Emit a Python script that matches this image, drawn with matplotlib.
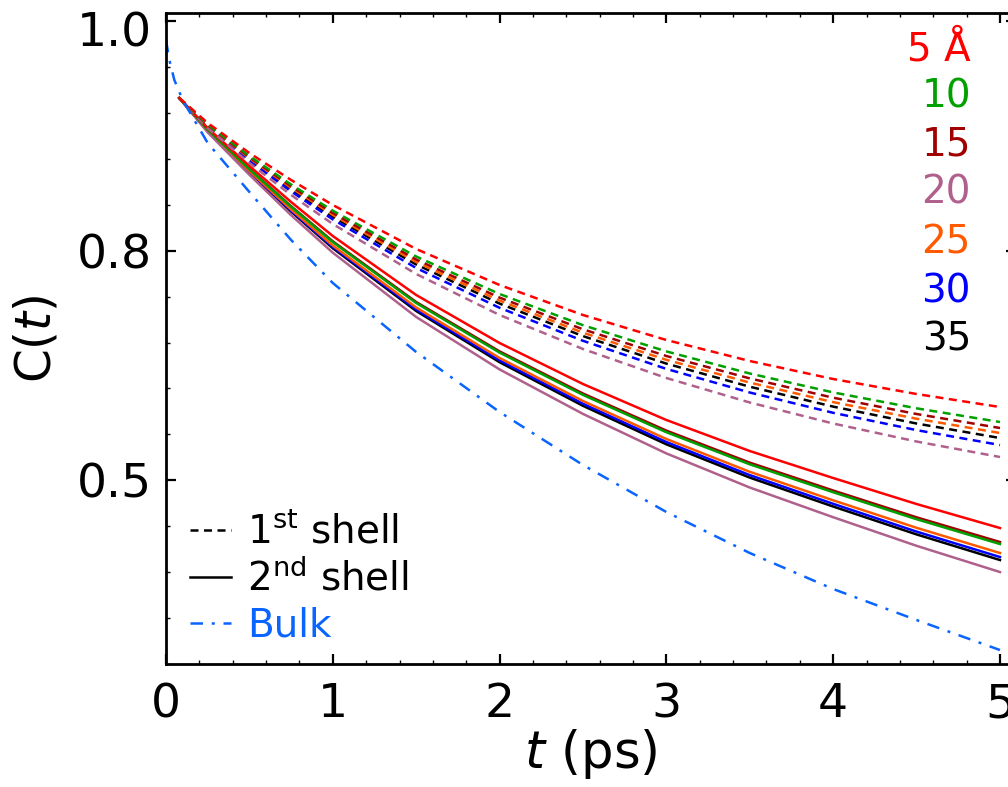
import matplotlib
matplotlib.use("Agg")
import matplotlib.pyplot as plt
from matplotlib.lines import Line2D
from matplotlib.ticker import MultipleLocator
from matplotlib.transforms import ScaledTranslation

# ---------------- data ----------------
t_shell = [0.08, 0.25, 0.5, 0.75, 1.0, 1.5, 2.0, 2.5, 3.0, 3.5, 4.0, 4.5, 5.0]

shell_labels = ["5 Å", "10", "15", "20", "25", "30", "35"]
shell_colors = ["#ff0000", "#00a000", "#a00000", "#b0608c", "#ff5a00", "#0000ff", "#000000"]

# 1st shell (dashed)
first_5  = [0.93307, 0.91129, 0.88514, 0.86161, 0.83983, 0.80148, 0.77011, 0.74397, 0.72218, 0.70388, 0.68819, 0.67512, 0.66379]
first_10 = [0.93307, 0.90998, 0.88253, 0.85769, 0.83486, 0.79495, 0.76227, 0.73508, 0.71225, 0.69299, 0.67652, 0.66266, 0.65072]
first_15 = [0.93307, 0.90946, 0.88149, 0.85613, 0.83286, 0.79234, 0.75913, 0.73151, 0.70824, 0.68872, 0.67190, 0.65770, 0.64550]
first_20 = [0.93307, 0.90693, 0.87643, 0.84855, 0.82327, 0.77970, 0.74397, 0.71434, 0.68907, 0.66772, 0.64942, 0.63373, 0.62022]
first_25 = [0.93307, 0.90902, 0.88062, 0.85482, 0.83120, 0.79016, 0.75652, 0.72854, 0.70493, 0.68506, 0.66807, 0.65360, 0.64114]
first_30 = [0.93307, 0.90798, 0.87852, 0.85168, 0.82728, 0.78493, 0.75025, 0.72149, 0.69700, 0.67643, 0.65874, 0.64366, 0.63068]
first_35 = [0.93307, 0.90859, 0.87974, 0.85351, 0.82955, 0.78798, 0.75391, 0.72558, 0.70162, 0.68148, 0.66414, 0.64941, 0.63678]

# 2nd shell (solid)
second_5  = [0.93307, 0.90693, 0.87382, 0.84245, 0.81282, 0.76140, 0.71957, 0.68384, 0.65247, 0.62545, 0.60192, 0.57926, 0.55835]
second_10 = [0.93307, 0.90554, 0.87103, 0.83826, 0.80750, 0.75443, 0.71120, 0.67434, 0.64183, 0.61386, 0.58954, 0.56602, 0.54441]
second_15 = [0.93307, 0.90571, 0.87138, 0.83878, 0.80820, 0.75530, 0.71225, 0.67556, 0.64323, 0.61534, 0.59103, 0.56767, 0.54615]
second_20 = [0.93307, 0.90310, 0.86615, 0.83094, 0.79826, 0.74223, 0.69656, 0.65778, 0.62336, 0.59364, 0.56776, 0.54284, 0.52000]
second_25 = [0.93307, 0.90475, 0.86946, 0.83591, 0.80454, 0.75051, 0.70650, 0.66902, 0.63591, 0.60733, 0.58249, 0.55852, 0.53656]
second_30 = [0.93307, 0.90441, 0.86876, 0.83486, 0.80323, 0.74876, 0.70441, 0.66667, 0.63329, 0.60445, 0.57944, 0.55521, 0.53308]
second_35 = [0.93307, 0.90414, 0.86824, 0.83408, 0.80218, 0.74746, 0.70284, 0.66484, 0.63129, 0.60227, 0.57708, 0.55277, 0.53046]

# bulk (dash-dot)
t_bulk = [0.0, 0.02, 0.05, 0.1, 0.25, 0.5, 0.75, 1.0, 1.5, 2.0, 2.5, 3.0, 3.5, 4.0, 4.5, 5.0]
bulk   = [0.98362, 0.96619, 0.94876, 0.93133, 0.89386, 0.85116, 0.80933, 0.77186, 0.71173, 0.65944,
          0.61325, 0.57229, 0.53656, 0.50519, 0.47817, 0.45203]
bulk_color = "#0a64ff"

ytick_pos = [0.6, 0.8, 1.0]
ytick_labels = ["0.5", "0.8", "1.0"]
xtick_pos = [0, 1, 2, 3, 4, 5]

first_all = [first_5, first_10, first_15, first_20, first_25, first_30, first_35]
second_all = [second_5, second_10, second_15, second_20, second_25, second_30, second_35]

# ---------------- figure ----------------
plt.rcParams["font.family"] = ["DejaVu Sans"]
plt.rcParams["mathtext.fontset"] = "dejavusans"

fig = plt.figure(figsize=(10.08, 7.87), dpi=100)
ax = fig.add_axes([166 / 1008, 1 - 664.3 / 787, 850 / 1008, (664.3 - 12.7) / 787])

lw = 1.8
dash = (0, (3.2, 2.2))
dashdot = (0, (5, 3.5, 1.2, 3.5))
draw_order = [6, 5, 4, 3, 2, 1, 0]
for i in draw_order:
    ax.plot(t_shell, second_all[i], color=shell_colors[i], lw=lw, ls="-")
for i in draw_order:
    ax.plot(t_shell, first_all[i], color=shell_colors[i], lw=lw, ls=dash)
ax.plot(t_bulk, bulk, color=bulk_color, lw=lw, ls=dashdot)

ax.set_xlim(0, 5.096)
ax.set_ylim(0.4396, 1.0074)

ax.set_xticks(xtick_pos)
ax.xaxis.set_minor_locator(MultipleLocator(0.2))
ax.set_yticks(ytick_pos)
ax.set_yticklabels(ytick_labels)
ax.yaxis.set_minor_locator(MultipleLocator(0.04))

ax.tick_params(which="both", direction="in", top=True, right=True, labelsize=34)
ax.tick_params(which="major", length=7.2, width=1.6)
ax.tick_params(which="minor", length=3.1, width=1.0)
ax.tick_params(axis="y", which="major", pad=10)
ax.tick_params(axis="x", which="major", pad=13)
for sp in ax.spines.values():
    sp.set_linewidth(2.0)

# top label "1.0" sits a little lower than its tick
top_lab = ax.get_yticklabels()[-1]
top_lab.set_transform(top_lab.get_transform() + ScaledTranslation(0, -0.08, fig.dpi_scale_trans))

ax.set_xlabel("$t$ (ps)", fontsize=37, labelpad=0)
ax.set_ylabel("C($t$)", fontsize=35, labelpad=12)

# right side distance labels
label_y = [0.943, 0.871, 0.798, 0.724, 0.647, 0.572, 0.498]
for lab, col, yy in zip(shell_labels, shell_colors, label_y):
    ax.text(0.947, yy, lab, color=col, fontsize=28, ha="right", va="center",
            transform=ax.transAxes)

# legend
handles = [
    Line2D([], [], color="black", lw=lw, ls=dash),
    Line2D([], [], color="black", lw=lw, ls="-"),
    Line2D([], [], color=bulk_color, lw=lw, ls=dashdot),
]
labels = ["1$^{\\rm st}$ shell", "2$^{\\rm nd}$ shell", "Bulk"]
leg = ax.legend(handles, labels, loc="lower left", frameon=False, fontsize=28,
                handlelength=1.07, handletextpad=0.4, labelspacing=0.2,
                borderpad=0.0, borderaxespad=0.0, bbox_to_anchor=(0.028, 0.03))
for txt, col in zip(leg.get_texts(), ["black", "black", bulk_color]):
    txt.set_color(col)

fig.savefig("out.png", dpi=100)
